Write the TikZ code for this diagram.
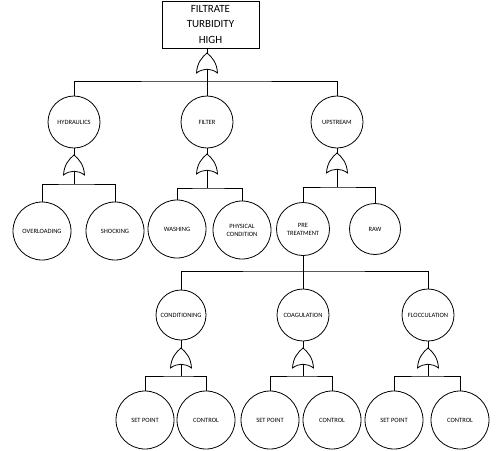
\documentclass[tikz,border=0pt]{standalone}
\usepackage{fontspec}
\setmainfont{Carlito}
\begin{document}
\begin{tikzpicture}[x=1pt,y=-1pt,line width=0.8pt,
        event/.style={draw,circle,inner sep=0pt,minimum size=52pt,align=center,font=\fontsize{6.5}{8}\selectfont},
        basic/.style={event,minimum size=58pt},
        topbox/.style={draw,rectangle,inner sep=0pt,minimum width=97pt,minimum height=47pt,align=center,font=\fontsize{11}{15.5}\selectfont},
        orgate/.pic={
            \draw (0,0) .. controls (5,4) and (10,10) .. (10.5,20) .. controls (4,15) and (-4,15) .. (-10.5,20) .. controls (-10,10) and (-5,4) .. (0,0) -- cycle;
            \coordinate (-in) at (0,0);
            \coordinate (-out) at (0,16.2);
        }]
        \useasboundingbox (0,0) rectangle (500,450);
        \node[topbox] (ftop) at (210.5,24.5) {FILTRATE\\TURBIDITY\\HIGH};
        \pic (g0) at (207,53) {orgate};
        \coordinate (bar0) at (207,81);
        \node[event] (hyd) at (74,122) {HYDRAULICS};
        \node[event] (filt) at (207,122) {FILTER};
        \node[event] (ups) at (337,122) {UPSTREAM};
        \pic (g1) at (74,155) {orgate};
        \pic (g2) at (207,154) {orgate};
        \pic (g3) at (337,153) {orgate};
        \coordinate (bar1) at (74,184);
        \coordinate (bar2) at (207,188);
        \coordinate (bar3) at (337,187);
        \node[basic] (over) at (42,231) {OVERLOADING};
        \node[basic] (shock) at (115,231) {SHOCKING};
        \node[basic] (wash) at (177,229) {WASHING};
        \node[basic] (phys) at (242,230) {PHYSICAL\\CONDITION};
        \node[event,minimum size=53pt] (pre) at (303,229) {PRE\\TREATMENT};
        \node[event,minimum size=51pt] (raw) at (375,229) {RAW};
        \coordinate (bar4) at (303,271);
        \node[event,minimum size=50pt] (cond) at (181,315) {CONDITIONING};
        \node[event] (coag) at (303,315) {COAGULATION};
        \node[event] (floc) at (428,315) {FLOCCULATION};
        \pic (g4) at (181,348) {orgate};
        \pic (g5) at (303,348) {orgate};
        \pic (g6) at (428,348) {orgate};
        \coordinate (bar5) at (181,376);
        \coordinate (bar6) at (303,376);
        \coordinate (bar7) at (428,376);
        \node[basic] (sp1) at (145,420) {SET POINT};
        \node[basic] (ct1) at (206,420) {CONTROL};
        \node[basic] (sp2) at (270,420) {SET POINT};
        \node[basic] (ct2) at (332,420) {CONTROL};
        \node[basic] (sp3) at (394,420) {SET POINT};
        \node[basic] (ct3) at (460,420) {CONTROL};
        \draw (ftop.south -| g0-in) -- (g0-in);
        \draw (g0-out) -- (bar0);
        \draw (hyd.north) |- (bar0) -| (ups.north);
        \draw (filt.north) -- (bar0);
        \draw (hyd.south) -- (g1-in);
        \draw (filt.south) -- (g2-in);
        \draw (ups.south) -- (g3-in);
        \draw (g1-out) -- (bar1);
        \draw (g2-out) -- (bar2);
        \draw (g3-out) -- (bar3);
        \draw (over.north) |- (bar1) -| (shock.north);
        \draw (wash.north) |- (bar2) -| (phys.north);
        \draw (pre.north) |- (bar3) -| (raw.north);
        \draw (pre.south) -- (bar4);
        \draw (cond.north) |- (bar4) -| (floc.north);
        \draw (coag.north) -- (bar4);
        \draw (cond.south) -- (g4-in);
        \draw (coag.south) -- (g5-in);
        \draw (floc.south) -- (g6-in);
        \draw (g4-out) -- (bar5);
        \draw (g5-out) -- (bar6);
        \draw (g6-out) -- (bar7);
        \draw (sp1.north) |- (bar5) -| (ct1.north);
        \draw (sp2.north) |- (bar6) -| (ct2.north);
        \draw (sp3.north) |- (bar7) -| (ct3.north);
    \end{tikzpicture}
\end{document}
